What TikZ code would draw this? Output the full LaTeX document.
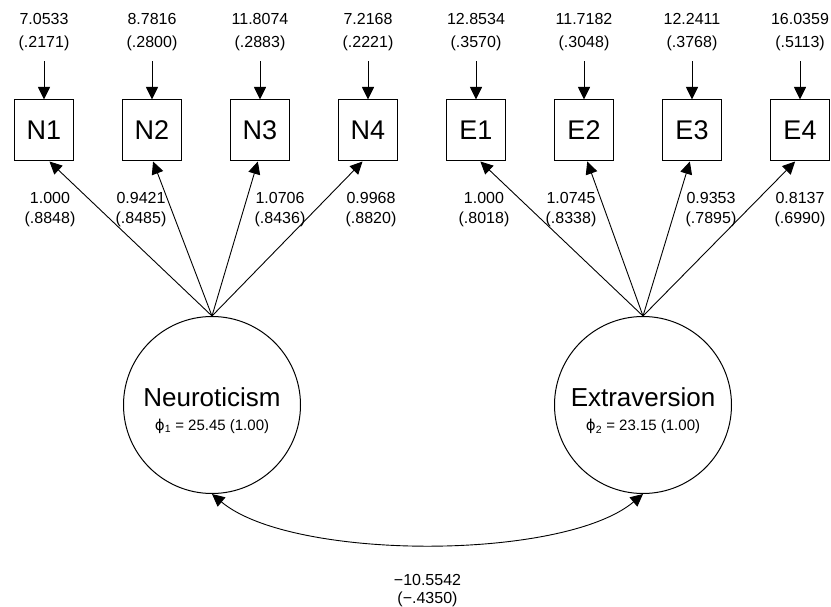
\documentclass[tikz,border=0pt]{standalone}
\usepackage{fontspec}
\setmainfont{Liberation Sans}
\newfontfamily\phifont{DejaVu Sans}
\usepackage{tikz}
\usetikzlibrary{shapes}
\usetikzlibrary{calc}
\usetikzlibrary{arrows.meta}

\newcommand{\varphisym}{{\phifont ϕ}}

\begin{document}
\begin{tikzpicture}[x=1pt, y=1pt]
    \def\boxdist{108}
    \def\captiondist{67}
    \def\loaddist{47.6}
    \tikzstyle{item}=[rectangle, draw, line width=1pt, minimum width=59pt, minimum height=61pt, inner sep=0pt, font=\fontsize{27}{30}\selectfont]
    \tikzstyle{factor}=[circle, draw, line width=1pt, minimum size=177pt, inner sep=0pt]
    \tikzstyle{factorname}=[inner sep=0pt, font=\fontsize{26}{30}\selectfont]
    \tikzstyle{variance}=[inner sep=0pt, font=\fontsize{15}{18}\selectfont]
    \tikzstyle{caption}=[align=center, inner sep=0pt, font=\fontsize{16}{23}\selectfont]
    \tikzstyle{loading}=[align=center, inner sep=0pt, font=\fontsize{16}{20}\selectfont]
    \tikzstyle{covlabel}=[align=center, inner sep=0pt, font=\fontsize{16}{18}\selectfont]
    \tikzstyle{arrow}=[-{Triangle[length=12.5pt, width=12pt]}, line width=0.9pt]
    \tikzstyle{errarrow}=[arrow, shorten <=10pt]
    \tikzstyle{twoway}=[{Triangle[length=12.5pt, width=12pt]}-{Triangle[length=12.5pt, width=12pt]}, line width=0.9pt]

    \useasboundingbox (0,0) rectangle (831,-607);

    % nodes
    \node (n1) [item] at (44,-130.5) {N1};
    \path (n1)+(\boxdist,0) node (n2) [item] {N2};
    \path (n2)+(\boxdist,0) node (n3) [item] {N3};
    \path (n3)+(\boxdist,0) node (n4) [item] {N4};
    \path (n4)+(\boxdist,0) node (e1) [item] {E1};
    \path (e1)+(\boxdist,0) node (e2) [item] {E2};
    \path (e2)+(\boxdist,0) node (e3) [item] {E3};
    \path (e3)+(\boxdist,0) node (e4) [item] {E4};

    \node (neu) [factor] at (212,-405) {};
    \node (ext) [factor] at (643,-405) {};
    \path (neu)+(0,8) node (neuname) [factorname] {Neuroticism};
    \path (neu)+(0,-21.5) node (neuvar) [variance] {\varphisym\textsubscript{1} = 25.45 (1.00)};
    \path (ext)+(0,8) node (extname) [factorname] {Extraversion};
    \path (ext)+(0,-21.5) node (extvar) [variance] {\varphisym\textsubscript{2} = 23.15 (1.00)};

    \coordinate (mid) at ($(neu)!0.5!(ext)$);

    % captions
    \path (n1.north)+(0,\captiondist) node (t1) [caption] {7.0533\\(.2171)};
    \path (n2.north)+(0,\captiondist) node (t2) [caption] {8.7816\\(.2800)};
    \path (n3.north)+(0,\captiondist) node (t3) [caption] {11.8074\\(.2883)};
    \path (n4.north)+(0,\captiondist) node (t4) [caption] {7.2168\\(.2221)};
    \path (e1.north)+(0,\captiondist) node (t5) [caption] {12.8534\\(.3570)};
    \path (e2.north)+(0,\captiondist) node (t6) [caption] {11.7182\\(.3048)};
    \path (e3.north)+(0,\captiondist) node (t7) [caption] {12.2411\\(.3768)};
    \path (e4.north)+(0,\captiondist) node (t8) [caption] {16.0359\\(.5113)};

    \path (n1.south)+(6,-\loaddist) node (l1) [loading] {1.000\\(.8848)};
    \path (n2.south)+(-11,-\loaddist) node (l2) [loading] {0.9421\\(.8485)};
    \path (n3.south)+(20,-\loaddist) node (l3) [loading] {1.0706\\(.8436)};
    \path (n4.south)+(3,-\loaddist) node (l4) [loading] {0.9968\\(.8820)};
    \path (e1.south)+(8,-\loaddist) node (l5) [loading] {1.000\\(.8018)};
    \path (e2.south)+(-13,-\loaddist) node (l6) [loading] {1.0745\\(.8338)};
    \path (e3.south)+(19,-\loaddist) node (l7) [loading] {0.9353\\(.7895)};
    \path (e4.south)+(0,-\loaddist) node (l8) [loading] {0.8137\\(.6990)};

    \path (mid)+(0,-185.5) node (cov) [covlabel] {−10.5542\\(−.4350)};

    % arrows
    \path[errarrow] (t1) edge (n1);
    \path[errarrow] (t2) edge (n2);
    \path[errarrow] (t3) edge (n3);
    \path[errarrow] (t4) edge (n4);
    \path[errarrow] (t5) edge (e1);
    \path[errarrow] (t6) edge (e2);
    \path[errarrow] (t7) edge (e3);
    \path[errarrow] (t8) edge (e4);

    \path[arrow] (neu.north) edge (n1.-80);
    \path[arrow] (neu.north) edge (n2.-88);
    \path[arrow] (neu.north) edge (n3.-94);
    \path[arrow] (neu.north) edge (n4.-100);
    \path[arrow] (ext.north) edge (e1.-82);
    \path[arrow] (ext.north) edge (e2.-84);
    \path[arrow] (ext.north) edge (e3.-94);
    \path[arrow] (ext.north) edge (e4.-99);

    \draw[twoway] (neu.south) to[out=-40, in=-140, looseness=0.62] (ext.south);
\end{tikzpicture}
\end{document}
